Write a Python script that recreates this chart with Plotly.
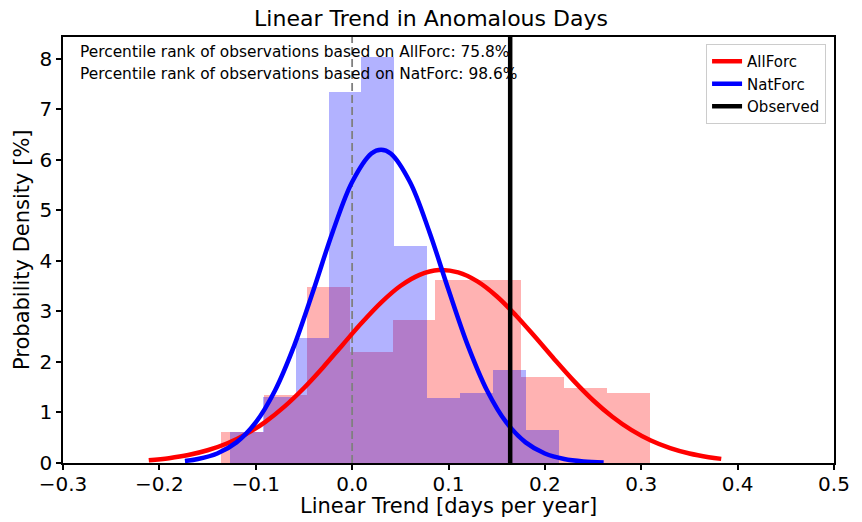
import numpy as np
import plotly.graph_objects as go

# ---------------- data ----------------
RED_EDGES = [-0.1365, -0.0919, -0.0473, -0.0027, 0.0419, 0.0865,
             0.1311, 0.1757, 0.2203, 0.2649, 0.3095]
RED_DENSITY = [0.61, 1.35, 3.49, 2.20, 2.83, 3.62, 3.62, 1.71, 1.49, 1.39]

BLUE_EDGES = [-0.1271, -0.0929, -0.0587, -0.0245, 0.0097, 0.0439,
              0.0781, 0.1123, 0.1465, 0.1808, 0.2150]
BLUE_DENSITY = [0.61, 1.31, 2.47, 7.34, 8.03, 4.30, 1.29, 1.39, 1.84, 0.65]

RED_CURVE_X = [-0.211, -0.19, -0.17, -0.15, -0.13, -0.11, -0.09, -0.07, -0.05,
               -0.03, -0.01, 0.01, 0.03, 0.05, 0.07, 0.09, 0.11, 0.13, 0.15,
               0.17, 0.19, 0.21, 0.23, 0.25, 0.27, 0.29, 0.31, 0.33, 0.35,
               0.37, 0.383]
RED_CURVE_Y = [0.053, 0.096, 0.158, 0.252, 0.386, 0.571, 0.815, 1.121, 1.485,
               1.897, 2.337, 2.775, 3.175, 3.503, 3.724, 3.818, 3.772, 3.594,
               3.300, 2.920, 2.492, 2.050, 1.625, 1.242, 0.915, 0.650, 0.445,
               0.294, 0.187, 0.115, 0.082]

BLUE_CURVE_X = [-0.1735, -0.16, -0.14, -0.12, -0.10, -0.08, -0.06, -0.04,
                -0.02, 0.00, 0.02, 0.03, 0.04, 0.06, 0.08, 0.10, 0.12, 0.14,
                0.16, 0.18, 0.20, 0.22, 0.24, 0.261]
BLUE_CURVE_Y = [0.040, 0.079, 0.188, 0.408, 0.803, 1.435, 2.328, 3.428,
                4.582, 5.561, 6.126, 6.200, 6.126, 5.561, 4.582, 3.428, 2.328,
                1.435, 0.803, 0.408, 0.188, 0.079, 0.030, 0.010]

OBSERVED = 0.164
PCT_ALLFORC = 75.8
PCT_NATFORC = 98.6

X_TICKS = [-0.3, -0.2, -0.1, 0.0, 0.1, 0.2, 0.3, 0.4, 0.5]
Y_TICKS = [0, 1, 2, 3, 4, 5, 6, 7, 8]
X_RANGE = [-0.3, 0.5]
Y_RANGE = [0, 8.43]

FONT = "DejaVu Sans"

# ---------------- figure ----------------
re = np.array(RED_EDGES)
be = np.array(BLUE_EDGES)

fig = go.Figure()

fig.add_trace(go.Bar(
    x=(re[:-1] + re[1:]) / 2, y=RED_DENSITY, width=np.diff(re),
    marker=dict(color="rgba(255,0,0,0.3)", line=dict(width=0)),
    showlegend=False, hoverinfo="skip"))
fig.add_trace(go.Bar(
    x=(be[:-1] + be[1:]) / 2, y=BLUE_DENSITY, width=np.diff(be),
    marker=dict(color="rgba(0,0,255,0.3)", line=dict(width=0)),
    showlegend=False, hoverinfo="skip"))

# zero reference line
fig.add_trace(go.Scatter(
    x=[0, 0], y=Y_RANGE, mode="lines",
    line=dict(color="gray", width=1.8, dash="8px,4px"),
    showlegend=False, hoverinfo="skip"))

fig.add_trace(go.Scatter(
    x=RED_CURVE_X, y=RED_CURVE_Y, mode="lines", name="AllForc",
    line=dict(color="red", width=4.5, shape="spline", smoothing=1.0)))
fig.add_trace(go.Scatter(
    x=BLUE_CURVE_X, y=BLUE_CURVE_Y, mode="lines", name="NatForc",
    line=dict(color="blue", width=4.5, shape="spline", smoothing=1.0)))
fig.add_trace(go.Scatter(
    x=[OBSERVED, OBSERVED], y=Y_RANGE, mode="lines", name="Observed",
    line=dict(color="black", width=4.5)))

axis_common = dict(
    showline=True, linecolor="black", linewidth=1.6, mirror=True,
    ticks="outside", ticklen=5, tickwidth=1.6, tickcolor="black",
    showgrid=False, zeroline=False,
    tickfont=dict(family=FONT, size=20, color="black"),
)

fig.update_xaxes(range=X_RANGE, tickvals=X_TICKS, tickformat=".1f",
                 ticklabelstandoff=-3, **axis_common)
fig.update_yaxes(range=Y_RANGE, tickvals=Y_TICKS, **axis_common)

fig.update_layout(
    width=862, height=522,
    margin=dict(l=63, r=25, t=37, b=59),
    plot_bgcolor="white", paper_bgcolor="white",
    barmode="overlay", bargap=0,
    font=dict(family=FONT, color="black"),
    title=dict(text="Linear Trend in Anomalous Days",
               font=dict(family=FONT, size=22, color="black"),
               x=0.5, xref="container", y=1 - 18 / 522, yref="container",
               xanchor="center", yanchor="middle"),
    legend=dict(x=0.9897, y=0.9836, xanchor="right", yanchor="top",
                bgcolor="rgba(255,255,255,0.8)", bordercolor="#cccccc",
                borderwidth=1, font=dict(family=FONT, size=15, color="black"),
                tracegroupgap=0),
    showlegend=True,
    annotations=[
        dict(text="Linear Trend [days per year]", xref="paper", yref="paper",
             x=0.5, y=0, yshift=-43, xanchor="center", yanchor="middle",
             showarrow=False, font=dict(family=FONT, size=21, color="black")),
        dict(text="Probability Density [%]", xref="paper", yref="paper",
             x=0, y=0.5, xshift=-41, textangle=-90, xanchor="center",
             yanchor="middle", showarrow=False,
             font=dict(family=FONT, size=21, color="black")),
        dict(text=f"Percentile rank of observations based on AllForc: {PCT_ALLFORC}%",
             xref="paper", yref="paper", x=0.02, y=(463 - 52) / 426,
             xanchor="left", yanchor="middle", showarrow=False,
             font=dict(family=FONT, size=15.4, color="black")),
        dict(text=f"Percentile rank of observations based on NatForc: {PCT_NATFORC}%",
             xref="paper", yref="paper", x=0.02, y=(463 - 74) / 426,
             xanchor="left", yanchor="middle", showarrow=False,
             font=dict(family=FONT, size=15.4, color="black")),
    ],
)

fig.write_html("out.html")
